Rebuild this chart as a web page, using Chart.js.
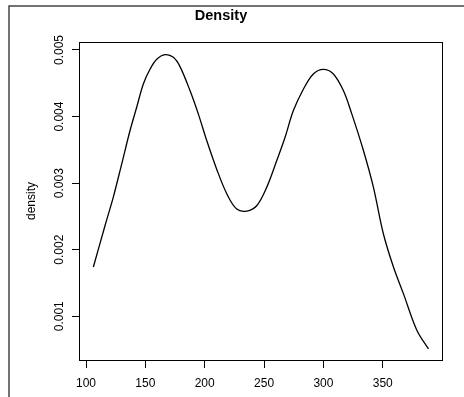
<!DOCTYPE html>
<html>
<head>
<meta charset="utf-8">
<script src="https://cdn.jsdelivr.net/npm/chart.js@4.4.1/dist/chart.umd.min.js"></script>
<style>
  body { margin: 0; background: #fff; }
  #wrap { width: 464px; height: 397px; }
</style>
</head>
<body>
<div id="wrap"><canvas id="densityChart" width="464" height="397"></canvas></div>
<script>
// values
const xValues = [106.2, 116.0, 123.0, 130.1, 137.1, 142.7, 148.3, 153.9, 159.6, 166.6,
    173.6, 179.2, 187.6, 194.6, 201.7, 210.1, 218.6, 227.0, 235.4, 243.8,
    252.3, 260.7, 267.7, 274.7, 283.1, 291.5, 300.0, 308.4, 316.8, 323.9,
    333.7, 342.1, 350.5, 359.0, 367.4, 378.7, 388.5];
const densityValues = [0.00174, 0.00236, 0.00279, 0.00329, 0.00379, 0.00414, 0.00449, 0.00471, 0.00486, 0.00493,
    0.00489, 0.00475, 0.00439, 0.00404, 0.00364, 0.00321, 0.00284, 0.00261, 0.00258, 0.00266,
    0.00294, 0.00334, 0.00369, 0.00409, 0.00441, 0.00464, 0.00471, 0.00464, 0.00439, 0.00404,
    0.00349, 0.00294, 0.00224, 0.00174, 0.00134, 0.00079, 0.00051];
const xTicks = [100, 150, 200, 250, 300, 350];
const yTicks = [0.001, 0.002, 0.003, 0.004, 0.005];

const points = xValues.map((x, i) => ({ x: x, y: densityValues[i] }));
const font = { family: 'Liberation Sans, Arial, sans-serif', size: 12 };

// R style box around the plot region plus the page frame
const boxPlugin = {
    id: 'rbox',
    beforeDraw(chart) {
        const c = chart.ctx;
        c.save();
        c.strokeStyle = '#444';
        c.lineWidth = 1.5;
        c.beginPath();
        c.moveTo(9, 397);
        c.lineTo(9, 6);
        c.lineTo(464, 6);
        c.stroke();
        c.restore();
    },
    afterDraw(chart) {
        const a = chart.chartArea;
        const c = chart.ctx;
        c.save();
        c.strokeStyle = '#000';
        c.lineWidth = 1;
        c.strokeRect(a.left + 0.5, a.top + 0.5, a.right - a.left, a.bottom - a.top);
        c.restore();
    }
};

new Chart(document.getElementById('densityChart'), {
    type: 'line',
    data: {
        datasets: [{
            data: points,
            borderColor: '#000',
            borderWidth: 1.3,
            pointRadius: 0,
            fill: false,
            tension: 0.35
        }]
    },
    options: {
        responsive: false,
        animation: false,
        layout: { padding: { left: 0, right: 22, top: 0, bottom: 0 } },
        plugins: {
            legend: { display: false },
            tooltip: { enabled: false },
            title: {
                display: true,
                text: 'Density',
                color: '#000',
                font: { family: font.family, size: 14.5, weight: 'bold' },
                padding: { top: 7, bottom: 17.6 }
            }
        },
        scales: {
            x: {
                type: 'linear',
                min: 94.1,
                max: 399.9,
                afterBuildTicks: s => { s.ticks = xTicks.map(v => ({ value: v })); },
                afterFit: s => { s.height = 37; },
                border: { display: false },
                grid: { drawOnChartArea: false, drawTicks: true, tickLength: 8, color: '#000' },
                ticks: { color: '#000', font: font, padding: 8, maxRotation: 0, autoSkip: false }
            },
            y: {
                min: 0.000343,
                max: 0.00512,
                afterBuildTicks: s => { s.ticks = yTicks.map(v => ({ value: v })); },
                afterFit: s => { s.width = 79; },
                border: { display: false },
                grid: { drawOnChartArea: false, drawTicks: true, tickLength: 7, color: '#000' },
                ticks: {
                    color: '#000',
                    font: font,
                    minRotation: 90,
                    maxRotation: 90,
                    crossAlign: 'center',
                    padding: -3,
                    autoSkip: false,
                    callback: v => v.toFixed(3)
                },
                title: {
                    display: true,
                    text: 'density',
                    color: '#000',
                    font: font,
                    padding: { top: 24, bottom: 0 }
                }
            }
        }
    },
    plugins: [boxPlugin]
});
</script>
</body>
</html>
